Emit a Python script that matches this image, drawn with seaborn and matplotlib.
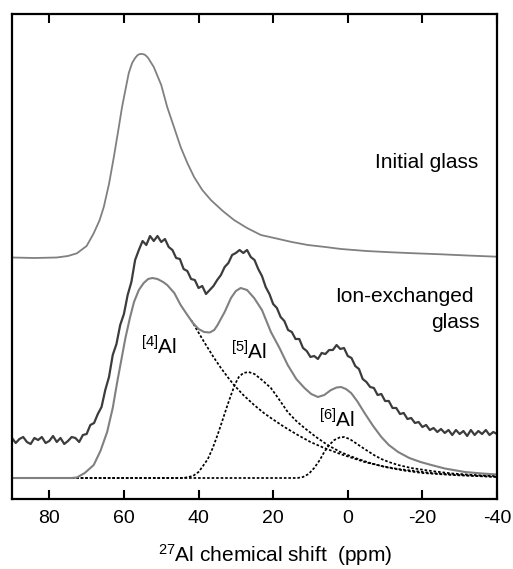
import numpy as np
import pandas as pd
import matplotlib
matplotlib.use("Agg")
import matplotlib.pyplot as plt
import seaborn as sns

# 27Al MAS NMR spectra, chemical shift in ppm, intensity in arbitrary units

# initial glass
init_ppm = [90, 84, 78, 75, 72.6, 70, 68.1, 66.5, 65.4, 64, 62.7, 61.5, 60.5, 59.5, 58.7,
            57.8, 57, 56.3, 55.7, 55.1, 54.5, 54, 53.5, 53, 52, 50, 48.4, 46.5, 44.8, 43,
            41.2, 39, 36.7, 33.5, 30.5, 27, 23.3, 19.7, 15, 10.7, 6, 1.8, -5, -11.7, -18,
            -25, -32, -40]
init_int = [0.5, 0, 0.5, 2, 4.7, 12, 24.7, 38, 51, 74, 101, 128, 151, 170, 185,
            195, 200, 203, 204, 204, 203.5, 202, 200, 197, 191, 173, 151, 130, 111, 95,
            81, 68, 58, 47, 38, 30, 23, 20, 16, 13, 11, 9, 7, 5.7, 4.7,
            3.7, 2.5, 1.3]

# ion-exchanged glass, measured (1 ppm steps from 90 to -40)
exch_ppm = list(range(90, -41, -1))
exch_int = [2, -3, 1, 3, -2, -4, 2, 0, 3, -3, -1, 4, -2, 2, -4, -1, 3, 2, -2, 5,
            6, 15, 17, 26, 33, 50, 63, 85, 96, 115, 126, 145, 158, 180, 190, 199, 195, 204, 199, 204,
            198, 201, 193, 190, 182, 181, 171, 169, 161, 160, 152, 154, 146, 150, 154, 160, 165, 173, 177, 185,
            187, 190, 187, 190, 183, 180, 171, 164, 153, 146, 136, 132, 123, 119, 110, 108, 101, 101, 92, 89,
            83, 84, 81, 87, 86, 90, 90, 95, 91, 92, 84, 82, 74, 71, 61, 58, 53, 52, 45, 46,
            39, 39, 32, 32, 26, 27, 21, 22, 17, 18, 13, 15, 10, 12, 8, 11, 7, 10, 5, 10,
            6, 9, 4, 10, 5, 9, 6, 10, 5, 8, 6]

# ion-exchanged glass, total fit
fit_ppm = [90, 80, 74, 72.6, 70.5, 68.1, 66.3, 64.5, 63, 61.8, 60.6, 59.6, 58.4, 57.3, 56,
           54.7, 53.5, 52.4, 51, 49.5, 48.4, 46.5, 44.8, 43, 41.5, 40, 38.5, 37, 35.8, 34.9,
           33, 31.3, 30, 28.7, 27, 25.1, 23, 20.6, 18.3, 16.1, 13.8, 11.6, 9.8, 8, 6.3,
           4.5, 3, 1.8, 0.5, -0.9, -2.5, -4.5, -6.8, -9, -11, -13.5, -16.5, -19.5, -22.4,
           -26, -31.4, -36, -40]
fit_int = [0, 0, 0, 0.5, 5, 13, 27, 46, 70, 96, 120, 140, 160, 176, 188,
           195, 199, 200, 199, 196, 193, 185, 173, 163, 155, 149, 146, 145.5, 148, 153,
           166, 180, 187, 190, 188, 180, 168, 146, 130, 113, 99, 90, 84, 81, 83,
           88, 90.5, 91, 89, 85, 77, 65, 52, 41, 33, 26, 20, 16, 13,
           9.5, 6, 4.5, 3.5]

# fitted components ([4]Al drawn from where it leaves the total fit)
al4_ppm = [42, 41.2, 38.5, 36, 34, 32, 30.5, 28, 25.1, 22.5, 20.6, 17, 13.4, 10, 6.3, 2,
           -4.5, -9, -13.5, -18, -22.4, -30, -40]
al4_int = [158, 153, 136, 121, 110, 100, 93, 83, 73, 65, 60, 51, 43, 36, 30, 24,
           16, 12, 9, 7, 5, 3, 1.3]

al5_ppm = [74, 44, 41.5, 40, 39, 37.5, 36.2, 35, 34, 32.5, 31.3, 30.2, 29.2, 28, 26.6,
           25, 23, 20.6, 18.3, 16.1, 13.8, 11.6, 8.5, 5.4, 2, -2, -6, -10, -15, -20, -28, -40]
al5_int = [0, 0, 2, 6, 11, 19, 30, 42, 53, 70, 83, 94, 101, 105, 106,
           104, 98, 90, 78, 66, 57, 50, 41, 33, 26, 20, 15, 11, 7.5, 5, 3, 1]

al6_ppm = [74, 13.5, 12, 10.5, 9, 7.5, 6.3, 5, 3.6, 2.2, 1, -0.5, -2.5, -4.5, -7, -9,
           -11, -13.5, -17, -22.4, -28, -34, -40]
al6_int = [0, 0, 1, 4, 10, 18, 26, 33, 38, 40.5, 41, 39, 34, 29, 23, 19,
           16, 13, 10, 7, 4.5, 3, 2]

x_ticks = [80, 60, 40, 20, 0, -20, -40]

# vertical stacking of the spectra
offset_init = 220
offset_exch = 38

sns.set_style("ticks")
plt.rcParams['font.family'] = ['Liberation Sans', 'DejaVu Sans']
plt.rcParams['mathtext.default'] = 'regular'
plt.rcParams['text.color'] = 'black'
plt.rcParams['xtick.color'] = 'black'

fig = plt.figure(figsize=(5.13, 5.69), dpi=100)
ax = fig.add_axes([12 / 513, 1 - 499 / 569, 485 / 513, 485 / 569])

gray = '#808080'
dark = '#3c3c3c'
dots = (0, (1.5, 1.1))

for p, v in [(al4_ppm, al4_int), (al5_ppm, al5_int), (al6_ppm, al6_int)]:
    sns.lineplot(x=p, y=v, ax=ax, color='black', lw=1.25, linestyle=dots,
                 sort=False, estimator=None)
sns.lineplot(x=init_ppm, y=np.array(init_int) + offset_init, ax=ax, color=gray, lw=1.3,
             sort=False, estimator=None)
sns.lineplot(x=exch_ppm, y=np.array(exch_int) + offset_exch, ax=ax, color=dark, lw=1.6,
             sort=False, estimator=None)
sns.lineplot(x=fit_ppm, y=fit_int, ax=ax, color=gray, lw=1.5, sort=False, estimator=None)

ax.set_xlim(90, -40)
ax.set_ylim(-21, 464)
ax.set_xticks(x_ticks)
ax.set_xticklabels([str(t) for t in x_ticks])
ax.set_yticks([])
ax.tick_params(axis='x', direction='in', length=6.5, width=1.5, top=True, labelsize=14,
               pad=8)
for s in ax.spines.values():
    s.set_linewidth(1.6)
    s.set_color('black')

fs = 15
ax.text(-21.1, 315, 'Initial glass', ha='center', va='center', fontsize=fs)
ax.text(-33.7, 181, 'Ion-exchanged', ha='right', va='center', fontsize=fs)
ax.text(-35.3, 156, 'glass', ha='right', va='center', fontsize=fs)
ax.text(55.5, 131, '$^{[4]}$Al', ha='left', va='center', fontsize=fs)
ax.text(31.3, 126, '$^{[5]}$Al', ha='left', va='center', fontsize=fs)
ax.text(7.7, 58, '$^{[6]}$Al', ha='left', va='center', fontsize=fs)

fig.text(275 / 513, 1 - 555 / 569, '$^{27}$Al chemical shift  (ppm)', ha='center',
         va='center', fontsize=fs)

fig.savefig('out.png', dpi=100)
